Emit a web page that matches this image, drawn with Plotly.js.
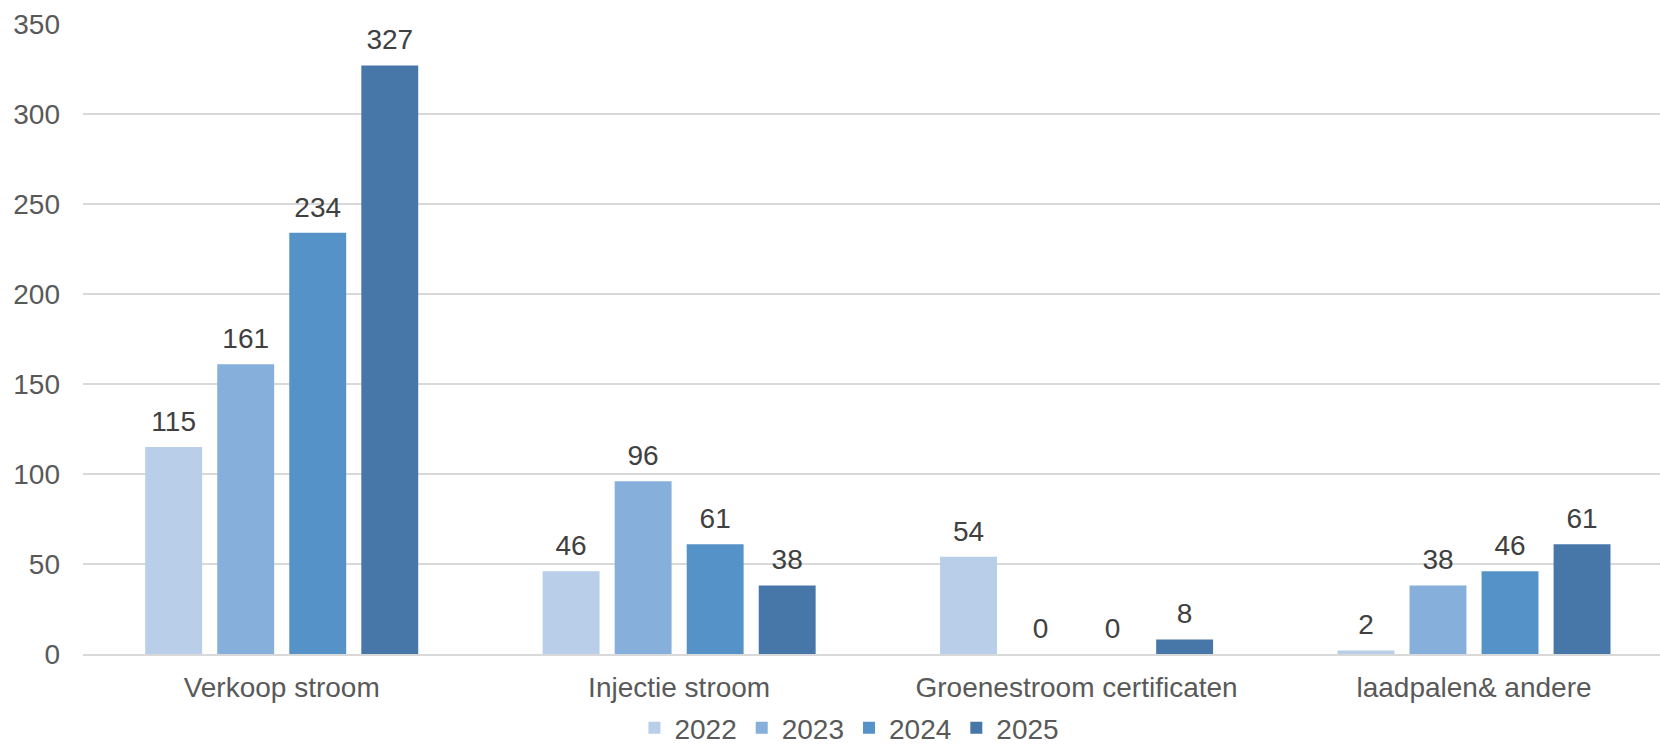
<!DOCTYPE html>
<html>
<head>
<meta charset="utf-8">
<script src="https://cdn.plot.ly/plotly-3.0.1.min.js"></script>
<style>html,body{margin:0;padding:0;background:#fff;}#chart{width:1660px;height:753px;}</style>
</head>
<body>
<div id="chart"></div>
<script>
const categories = ["Verkoop stroom", "Injectie stroom", "Groenestroom certificaten", "laadpalen& andere"];
const years = ["2022", "2023", "2024", "2025"];
const v2022 = [115, 46, 54, 2];
const v2023 = [161, 96, 0, 38];
const v2024 = [234, 61, 0, 46];
const v2025 = [327, 38, 8, 61];
const colors = ["#B9CEE8", "#86AFDC", "#5592C8", "#4677A8"];
const yTicks = [0, 50, 100, 150, 200, 250, 300, 350];

const series = [v2022, v2023, v2024, v2025];
const FONT = "Arial, 'Liberation Sans', sans-serif";
const traces = [];
series.forEach((vals, i) => {
  traces.push({
    type: "bar", name: years[i], x: categories, y: vals,
    marker: {color: colors[i], line: {width: 0}},
    hoverinfo: "skip"
  });
});
series.forEach((vals, i) => {
  traces.push({
    type: "scatter", mode: "markers+text", name: years[i] + " label", showlegend: false,
    x: categories, y: vals, text: vals.map(String), textposition: "top center",
    textfont: {family: FONT, size: 28, color: "#404040"}, cliponaxis: false,
    marker: {size: 13, opacity: 0, color: "rgba(0,0,0,0)"}, hoverinfo: "skip"
  });
});

const layout = {
  width: 1660, height: 753,
  margin: {l: 83, r: 0, t: 24, b: 99},
  paper_bgcolor: "#ffffff", plot_bgcolor: "#ffffff",
  barmode: "group", bargap: 0.275, bargroupgap: 0.21,
  scattermode: "group", scattergap: 0.275,
  font: {family: FONT, size: 28, color: "#595959"},
  xaxis: {
    type: "category", range: [-0.5, 3.468], showgrid: false, automargin: false,
    showline: true, linecolor: "#d9d9d9", linewidth: 1.5, ticks: "",
    ticklabelstandoff: 8,
    tickfont: {family: FONT, size: 28, color: "#595959"}, fixedrange: true
  },
  yaxis: {
    range: [0, 350], tickvals: yTicks, ticktext: yTicks.map(String), automargin: false,
    showgrid: true, gridcolor: "#d9d9d9", gridwidth: 1.5, zeroline: false,
    showline: false, ticks: "", ticklabelstandoff: 22,
    tickfont: {family: FONT, size: 28, color: "#595959"}, fixedrange: true
  },
  showlegend: true,
  legend: {
    orientation: "h", x: 0.486, xanchor: "center",
    yref: "container", y: 0, yanchor: "bottom",
    font: {family: FONT, size: 28, color: "#595959"}, traceorder: "normal"
  }
};
Plotly.newPlot("chart", traces, layout, {displayModeBar: false, staticPlot: true});
</script>
</body>
</html>
